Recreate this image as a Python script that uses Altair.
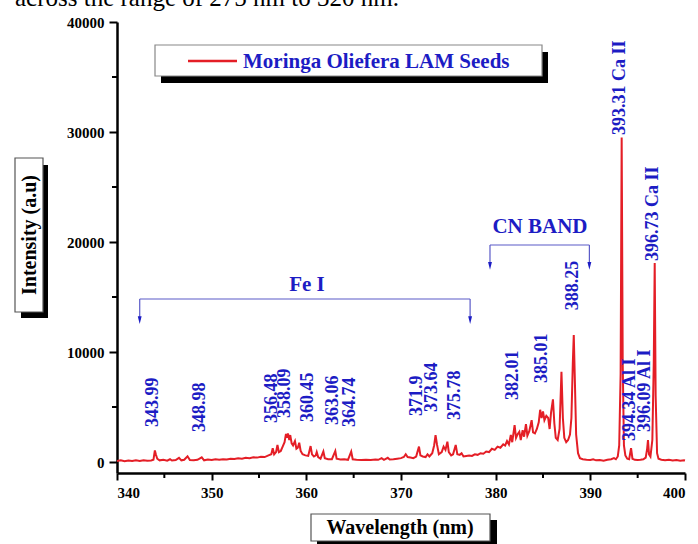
import altair as alt
import pandas as pd

# ---------------- spectrum (wavelength nm, intensity a.u.) ----------------
seg_340_356 = [
    (340.0, 100), (340.4, 150), (340.8, 80), (341.2, 130), (341.6, 90), (342.0, 150),
    (342.4, 100), (342.8, 160), (343.2, 110), (343.6, 140), (343.85, 200), (344.0, 1050),
    (344.1, 700), (344.25, 300), (344.5, 150), (344.9, 200), (345.3, 120), (345.6, 250),
    (345.8, 130), (346.2, 180), (346.55, 380), (346.8, 150), (347.1, 200), (347.45, 520),
    (347.7, 180), (348.1, 150), (348.5, 200), (348.95, 420), (349.2, 150), (349.6, 220),
    (350.0, 180), (350.4, 250), (350.8, 200), (351.2, 260), (351.6, 220), (352.0, 300),
    (352.4, 280), (352.8, 330), (353.2, 300), (353.6, 380), (354.0, 350), (354.4, 420),
    (354.8, 400), (355.2, 480), (355.6, 450), (356.0, 600),
]
seg_356_366 = [
    (356.3, 700), (356.45, 1250), (356.6, 700), (356.8, 900), (356.95, 1550), (357.1, 900),
    (357.3, 1000), (357.5, 1400), (357.7, 1800), (357.85, 2550), (357.95, 2200), (358.05, 2600),
    (358.2, 2000), (358.3, 2450), (358.45, 1700), (358.6, 1500), (358.8, 1900), (358.95, 1200),
    (359.1, 1300), (359.25, 1750), (359.4, 1000), (359.6, 700), (359.9, 600), (360.2, 550),
    (360.45, 1450), (360.6, 700), (360.8, 500), (361.0, 600), (361.1, 900), (361.25, 450),
    (361.5, 300), (361.8, 950), (361.95, 350), (362.3, 250), (362.7, 250), (363.06, 1000),
    (363.2, 300), (363.6, 220), (364.0, 250), (364.4, 200), (364.74, 950), (364.9, 250),
    (365.3, 200), (365.8, 180),
]
seg_366_380 = [
    (366.3, 200), (366.8, 180), (367.3, 220), (367.6, 200), (367.95, 350), (368.2, 200),
    (368.6, 380), (368.8, 220), (369.2, 250), (369.6, 300), (370.0, 350), (370.3, 450),
    (370.5, 700), (370.7, 450), (371.0, 400), (371.3, 350), (371.6, 500), (371.9, 1400),
    (372.05, 600), (372.3, 500), (372.6, 450), (372.8, 700), (373.0, 500), (373.3, 800),
    (373.5, 1500), (373.65, 2450), (373.8, 1600), (374.0, 700), (374.3, 900), (374.5, 1400),
    (374.7, 1100), (374.9, 1850), (375.05, 900), (375.3, 600), (375.5, 700), (375.78, 1550),
    (375.95, 700), (376.2, 650), (376.4, 800), (376.6, 500), (376.9, 550), (377.2, 600),
    (377.5, 550), (377.8, 700), (378.1, 650), (378.4, 800), (378.7, 750), (379.0, 950),
    (379.3, 900), (379.6, 1200), (379.9, 1100),
]
seg_380_389 = [
    (380.2, 1400), (380.5, 1300), (380.8, 1600), (381.0, 1500), (381.2, 1900), (381.4, 1600),
    (381.6, 2450), (381.75, 1800), (382.0, 3350), (382.15, 2200), (382.3, 2500), (382.5, 2750),
    (382.65, 2000), (382.85, 2900), (383.0, 2300), (383.2, 3450), (383.35, 2400), (383.55, 2800),
    (383.8, 3800), (383.95, 2700), (384.15, 2600), (384.35, 3000), (384.55, 3600), (384.7, 4750),
    (384.85, 4000), (385.0, 4600), (385.15, 3800), (385.35, 4200), (385.55, 4000), (385.7, 3000),
    (385.85, 4500), (386.05, 5700), (386.2, 3500), (386.35, 2200), (386.55, 2000), (386.75, 3000),
    (386.95, 8200), (387.1, 4000), (387.25, 2200), (387.45, 1800), (387.65, 2000), (387.85, 2500),
    (388.0, 4000), (388.15, 9000), (388.25, 11550), (388.35, 8000), (388.5, 2500), (388.7, 800),
    (388.9, 350),
]
seg_389_400 = [
    (389.2, 250), (389.6, 200), (390.0, 180), (390.3, 250), (390.6, 150), (391.0, 180),
    (391.4, 120), (391.8, 200), (392.2, 250), (392.5, 350), (392.7, 250), (392.9, 500),
    (393.05, 1500), (393.2, 8000), (393.31, 29500), (393.42, 9000), (393.55, 1500), (393.7, 600),
    (393.9, 300), (394.1, 250), (394.3, 1250), (394.45, 300), (394.7, 200), (395.0, 180),
    (395.3, 200), (395.6, 250), (395.85, 400), (396.0, 1200), (396.09, 2000), (396.2, 700),
    (396.35, 500), (396.55, 2000), (396.7, 9000), (396.8, 18100), (396.9, 6000), (397.05, 800),
    (397.2, 300), (397.5, 200), (397.9, 150), (398.3, 200), (398.7, 130), (399.1, 180),
    (399.5, 120), (399.9, 150), (400.0, 130),
]

series_name = "Moringa Oliefera LAM Seeds"

# ---------------- peak annotations ----------------
peak_labels = ["343.99", "348.98", "356.48", "358.09", "360.45", "363.06", "364.74",
               "371.9", "373.64", "375.78", "382.01", "385.01", "388.25",
               "393.31 Ca II", "396.73 Ca II", "394.34 Al I", "396.09 Al I"]
label_wl = [343.8, 348.77, 356.37, 357.75, 360.18, 362.82, 364.61,
            371.69, 373.27, 375.70, 381.83, 384.89, 388.22,
            393.13, 396.62, 394.19, 395.77]
label_base = [3180, 2730, 3545, 4000, 3636, 3364, 3180,
              4180, 4545, 3820, 5636, 7180, 13800,
              29730, 18270, 1900, 2730]

# ---------------- group brackets ----------------
group_names = ["Fe I", "CN BAND"]
group_start = [342.4, 379.4]
group_end = [377.3, 389.9]
group_line = [14818, 19727]
group_tip = [12900, 17820]
group_text_wl = [360.07, 384.68]
group_text_y = [16090, 21360]

x_ticks = [340, 350, 360, 370, 380, 390, 400]
x_minor = [345, 355, 365, 375, 385, 395]
y_ticks = [0, 10000, 20000, 30000, 40000]
y_minor = [5000, 15000, 25000, 35000]

# ---------------- build ----------------
FONT = "Liberation Serif"
BLUE = "#1c1cc4"
RED = "#e41e26"

spec = pd.DataFrame(seg_340_356 + seg_356_366 + seg_366_380 + seg_380_389 + seg_389_400,
                    columns=["wl", "I"])
spec["series"] = series_name
labels = pd.DataFrame({"wl": label_wl, "I": label_base, "t": peak_labels})
groups = pd.DataFrame({"name": group_names, "a": group_start, "b": group_end,
                       "line": group_line, "tip": group_tip,
                       "tx": group_text_wl, "ty": group_text_y})
one = pd.DataFrame({"k": [0]})

xs = alt.Scale(domain=[340, 400], nice=False, zero=False)
ys = alt.Scale(domain=[-1000, 40000], nice=False, zero=False)

axis_common = dict(labelFont=FONT, labelFontWeight="bold", labelFontSize=15, labelColor="black",
                   tickColor="black", tickWidth=2, domainColor="black", domainWidth=2.5,
                   grid=False, title=None)

line = alt.Chart(spec).mark_line(color=RED, strokeWidth=2).encode(
    x=alt.X("wl:Q", scale=xs, axis=alt.Axis(values=x_ticks, format="d", tickSize=7,
                                            labelPadding=5, **axis_common)),
    y=alt.Y("I:Q", scale=ys, axis=alt.Axis(values=y_ticks, format="d", tickSize=8,
                                           labelPadding=5, **axis_common)),
)

xminor = alt.Chart(pd.DataFrame({"m": x_minor})).mark_rule(color="black", strokeWidth=2).encode(
    x=alt.X("m:Q", scale=xs, title=None), y=alt.value(451), y2=alt.value(456))
yminor = alt.Chart(pd.DataFrame({"m": y_minor})).mark_rule(color="black", strokeWidth=2).encode(
    y=alt.Y("m:Q", scale=ys, title=None), x=alt.value(-5), x2=alt.value(0))

peak_text = alt.Chart(labels).mark_text(angle=270, align="left", baseline="middle", font=FONT,
                                        fontWeight="bold", fontSize=18, color=BLUE).encode(
    x=alt.X("wl:Q", scale=xs, title=None), y=alt.Y("I:Q", scale=ys, title=None), text="t:N")

bracket_h = alt.Chart(groups).mark_rule(color="#5a5ac8", strokeWidth=1.2).encode(
    x=alt.X("a:Q", scale=xs, title=None), x2="b:Q", y=alt.Y("line:Q", scale=ys, title=None))
bracket_l = alt.Chart(groups).mark_rule(color="#5a5ac8", strokeWidth=1.2).encode(
    x=alt.X("a:Q", scale=xs, title=None), y=alt.Y("line:Q", scale=ys, title=None), y2="tip:Q")
bracket_r = alt.Chart(groups).mark_rule(color="#5a5ac8", strokeWidth=1.2).encode(
    x=alt.X("b:Q", scale=xs, title=None), y=alt.Y("line:Q", scale=ys, title=None), y2="tip:Q")
arrow_l = alt.Chart(groups).mark_point(shape="M-0.5,-1L0.5,-1L0,1Z", filled=True, size=60,
                                       color=BLUE, opacity=1).encode(
    x=alt.X("a:Q", scale=xs, title=None), y=alt.Y("tip:Q", scale=ys, title=None))
arrow_r = alt.Chart(groups).mark_point(shape="M-0.5,-1L0.5,-1L0,1Z", filled=True, size=60,
                                       color=BLUE, opacity=1).encode(
    x=alt.X("b:Q", scale=xs, title=None), y=alt.Y("tip:Q", scale=ys, title=None))
group_text = alt.Chart(groups).mark_text(align="center", baseline="middle", font=FONT,
                                         fontWeight="bold", fontSize=21, color=BLUE).encode(
    x=alt.X("tx:Q", scale=xs, title=None), y=alt.Y("ty:Q", scale=ys, title=None), text="name:N")


def rect(x, x2, y, y2, fill, stroke=None):
    kw = dict(fill=fill)
    if stroke:
        kw.update(stroke=stroke, strokeWidth=1.2)
    return alt.Chart(one).mark_rect(**kw).encode(
        x=alt.value(x), x2=alt.value(x2), y=alt.value(y), y2=alt.value(y2))


# legend (boxed with drop shadow)
leg_shadow = rect(44, 431, 30, 61, "black")
leg_box = rect(38, 425, 23, 54, "white", "#888888")
leg_line = alt.Chart(one).mark_rule(color=RED, strokeWidth=2.5).encode(
    x=alt.value(71), x2=alt.value(120), y=alt.value(39))
leg_text = alt.Chart(pd.DataFrame({"t": [series_name]})).mark_text(
    align="left", baseline="middle", font=FONT, fontWeight="bold", fontSize=21, color=BLUE).encode(
    x=alt.value(126), y=alt.value(40), text="t:N")

# axis titles (boxed with drop shadow)
yt_shadow = rect(-96, -69, 143, 296, "black")
yt_box = rect(-102, -74, 136, 290, "white", "#555555")
yt_text = alt.Chart(pd.DataFrame({"t": ["Intensity (a.u)"]})).mark_text(
    angle=270, align="center", baseline="middle", font=FONT, fontWeight="bold", fontSize=20,
    color="black").encode(x=alt.value(-87), y=alt.value(213), text="t:N")

xt_shadow = rect(200, 380, 498, 526, "black")
xt_box = rect(194, 373, 492, 519, "white", "#555555")
xt_text = alt.Chart(pd.DataFrame({"t": ["Wavelength (nm)"]})).mark_text(
    align="center", baseline="middle", font=FONT, fontWeight="bold", fontSize=20,
    color="black").encode(x=alt.value(283), y=alt.value(506), text="t:N")

# clipped line of page text above the figure
top_text = alt.Chart(pd.DataFrame({"t": ["across the range of 275 nm to 320 nm."]})).mark_text(
    align="left", baseline="alphabetic", font=FONT, fontSize=25, color="black").encode(
    x=alt.value(-102), y=alt.value(-16), text="t:N")

chart = alt.layer(
    line, xminor, yminor, peak_text, bracket_h, bracket_l, bracket_r, arrow_l, arrow_r,
    group_text, leg_shadow, leg_box, leg_line, leg_text, yt_shadow, yt_box, yt_text,
    xt_shadow, xt_box, xt_text, top_text,
).properties(
    width=568, height=451,
    padding={"left": 117, "top": 22, "right": 13, "bottom": 71},
    autosize=alt.AutoSizeParams(type="none"),
    background="white",
).configure_view(stroke=None)

chart.save("out.html", embed_options={"renderer": "svg", "actions": False})
